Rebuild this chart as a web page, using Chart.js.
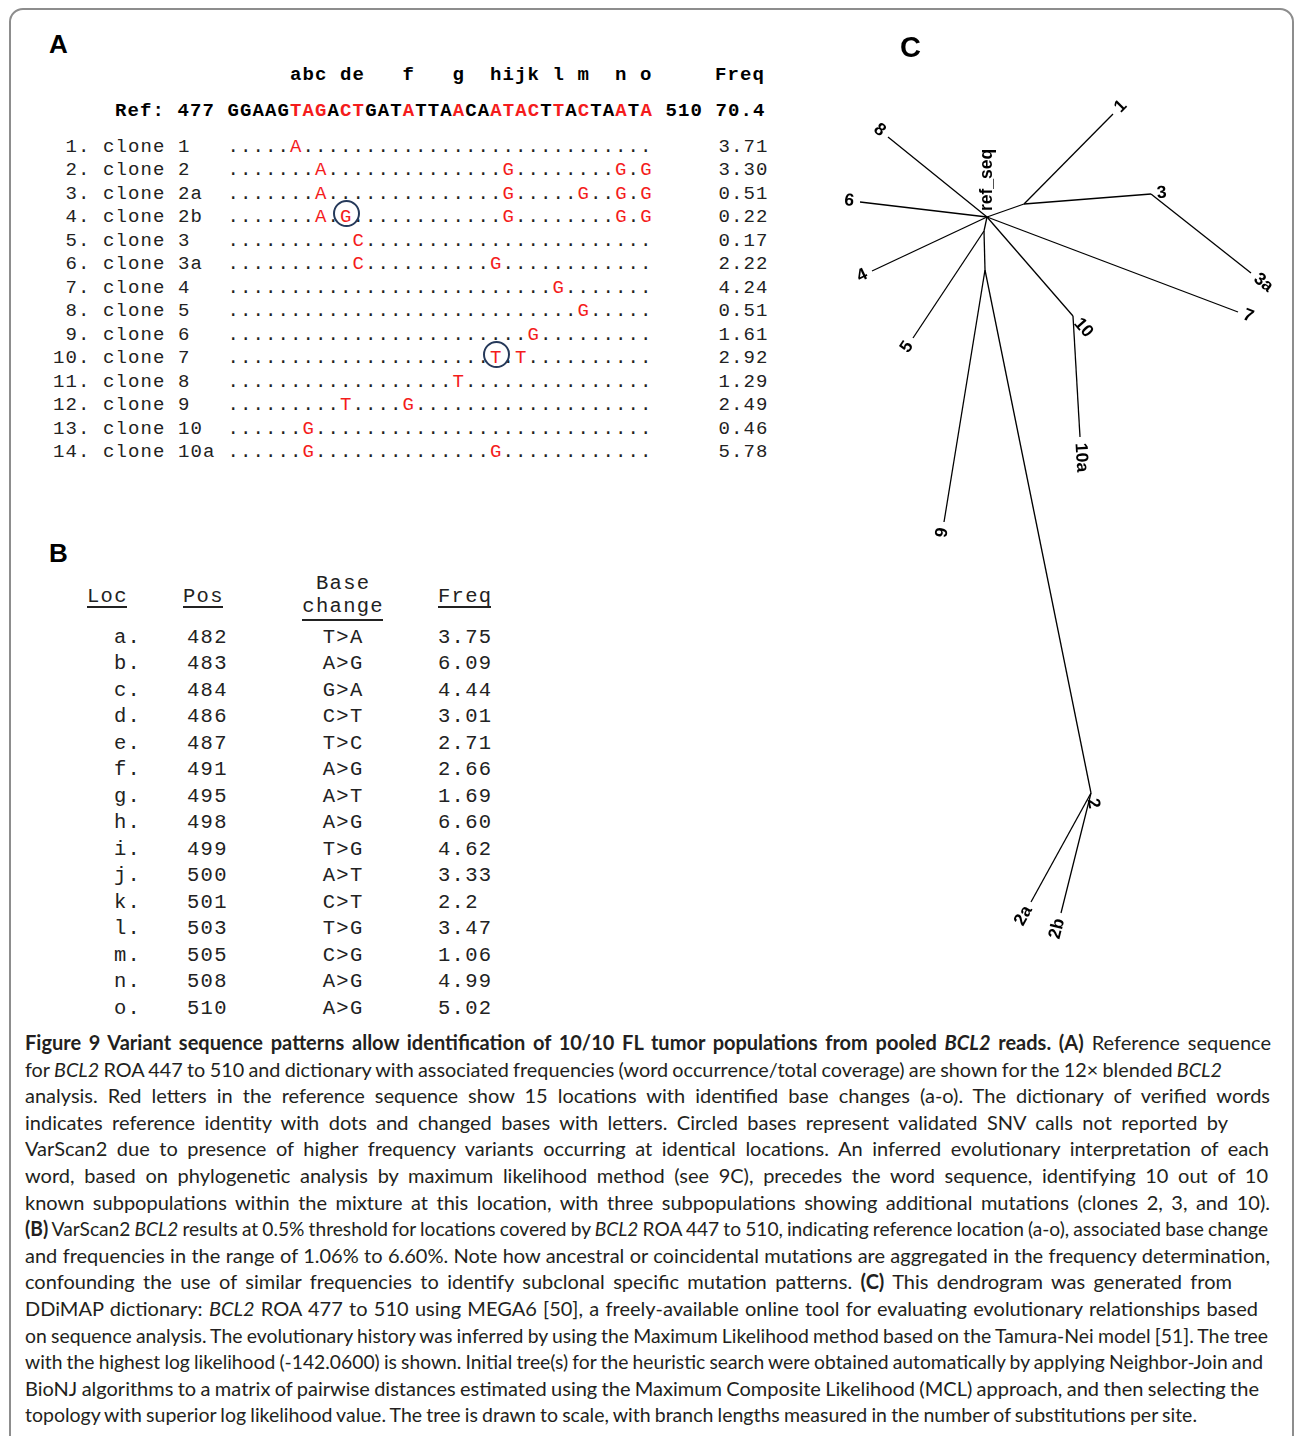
<!DOCTYPE html>
<html>
<head>
<meta charset="utf-8">
<title>Figure 9 – BCL2 variant sequence patterns</title>
<script src="https://cdn.jsdelivr.net/npm/chart.js@4.4.1/dist/chart.umd.min.js"></script>
<style>
  html, body { margin: 0; padding: 0; background: #fff; }
  body { width: 1295px; height: 1436px; position: relative; overflow: hidden; }
  .frame { position: absolute; left: 9px; top: 8px; width: 1285px; height: 1470px;
           border: 2px solid #8d8d8d; border-radius: 14px; box-sizing: border-box; }
  .t { position: absolute; white-space: pre; margin: 0; }
  .panelTag { font-family: "Liberation Sans", Arial, sans-serif; font-weight: bold; color: #000; font-size: 26px; }
  .panelTag.big { font-size: 29px; }
  .monoA { font-family: "Liberation Mono", "DejaVu Sans Mono", monospace; font-size: 19px; letter-spacing: 1.1px; color: #222; }
  .monoA.bold { font-weight: bold; color: #000; }
  .monoB { font-family: "Liberation Mono", "DejaVu Sans Mono", monospace; font-size: 20.5px; letter-spacing: 1.3px; color: #222; }
  .red { color: #f41c1c; }
  .ring { position: absolute; width: 23px; height: 23px; border: 2.6px solid #25395a; border-radius: 50%; }
  .rule { position: absolute; height: 1.6px; background: #222; }
  .cap { font-family: Lato, "Open Sans", sans-serif; font-size: 20px; color: #231f20; }
  #treeCanvas { position: absolute; left: 820px; top: 60px; }
</style>
</head>
<body>
<div class="frame"></div>
<canvas id="treeCanvas" width="470" height="900"></canvas>

<script>
// ---------- Panel A: reference sequence and clone dictionary ----------
const refStart = 477;
const refEnd = 510;
const refSeq = "GGAAGTAGACTGATATTAACAATACTTACTAATA";
const refFreq = "70.4";

const cloneNames = ["clone 1", "clone 2", "clone 2a", "clone 2b", "clone 3", "clone 3a", "clone 4",
                    "clone 5", "clone 6", "clone 7", "clone 8", "clone 9", "clone 10", "clone 10a"];
const cloneFreqs = ["3.71", "3.30", "0.51", "0.22", "0.17", "2.22", "4.24",
                    "0.51", "1.61", "2.92", "1.29", "2.49", "0.46", "5.78"];
// changed bases per clone, keyed by reference position
const cloneVariants = [
  { 482: "A" },
  { 484: "A", 499: "G", 508: "G", 510: "G" },
  { 484: "A", 499: "G", 505: "G", 508: "G", 510: "G" },
  { 484: "A", 486: "G", 499: "G", 508: "G", 510: "G" },
  { 487: "C" },
  { 487: "C", 498: "G" },
  { 503: "G" },
  { 505: "G" },
  { 501: "G" },
  { 498: "T", 500: "T" },
  { 495: "T" },
  { 486: "T", 491: "G" },
  { 483: "G" },
  { 483: "G", 498: "G" }
];
// validated SNV calls that VarScan2 did not report
const circledCalls = [
  { clone: "clone 2b", pos: 486 },
  { clone: "clone 7", pos: 498 }
];

// ---------- Panel B: VarScan2 calls ----------
const locLetters = ["a", "b", "c", "d", "e", "f", "g", "h", "i", "j", "k", "l", "m", "n", "o"];
const locPositions = [482, 483, 484, 486, 487, 491, 495, 498, 499, 500, 501, 503, 505, 508, 510];
const baseChanges = ["T>A", "A>G", "G>A", "C>T", "T>C", "A>G", "A>T", "A>G",
                     "T>G", "A>T", "C>T", "T>G", "C>G", "A>G", "A>G"];
const locFreqs = ["3.75", "6.09", "4.44", "3.01", "2.71", "2.66", "1.69", "6.60",
                  "4.62", "3.33", "2.2", "3.47", "1.06", "4.99", "5.02"];

// ---------- Panel C: maximum likelihood tree (unrooted layout, root = ref_seq) ----------
const treeNodes = [
  { id: "ref", x: 0,    y: 0,    parent: null,  label: "ref_seq" },
  { id: "j13", x: 37,   y: 13,   parent: "ref", label: null },
  { id: "1",   x: 126,  y: 103,  parent: "j13", label: "1" },
  { id: "3",   x: 164,  y: 23,   parent: "j13", label: "3" },
  { id: "3a",  x: 264,  y: -56,  parent: "3",   label: "3a" },
  { id: "8",   x: -99,  y: 80,   parent: "ref", label: "8" },
  { id: "6",   x: -127, y: 15,   parent: "ref", label: "6" },
  { id: "4",   x: -115, y: -54,  parent: "ref", label: "4" },
  { id: "j5",  x: -3,   y: -14,  parent: "ref", label: null },
  { id: "5",   x: -74,  y: -121, parent: "j5",  label: "5" },
  { id: "j9",  x: -2,   y: -53,  parent: "j5",  label: null },
  { id: "9",   x: -43,  y: -305, parent: "j9",  label: "9" },
  { id: "2",   x: 104,  y: -576, parent: "j9",  label: "2" },
  { id: "2a",  x: 44,   y: -685, parent: "2",   label: "2a" },
  { id: "2b",  x: 74,   y: -696, parent: "2",   label: "2b" },
  { id: "7",   x: 251,  y: -95,  parent: "ref", label: "7" },
  { id: "10",  x: 86,   y: -99,  parent: "ref", label: "10" },
  { id: "10a", x: 93,   y: -220, parent: "10",  label: "10a" }
];

// ---------- Caption ----------
const captionLines = [
  "<b>Figure 9 Variant sequence patterns allow identification of 10/10 FL tumor populations from pooled <i>BCL2</i> reads. (A)</b> Reference sequence",
  "for <i>BCL2</i> ROA 447 to 510 and dictionary with associated frequencies (word occurrence/total coverage) are shown for the 12× blended <i>BCL2</i>",
  "analysis. Red letters in the reference sequence show 15 locations with identified base changes (a-o). The dictionary of verified words",
  "indicates reference identity with dots and changed bases with letters. Circled bases represent validated SNV calls not reported by",
  "VarScan2 due to presence of higher frequency variants occurring at identical locations. An inferred evolutionary interpretation of each",
  "word, based on phylogenetic analysis by maximum likelihood method (see 9C), precedes the word sequence, identifying 10 out of 10",
  "known subpopulations within the mixture at this location, with three subpopulations showing additional mutations (clones 2, 3, and 10).",
  "<b>(B)</b> VarScan2 <i>BCL2</i> results at 0.5% threshold for locations covered by <i>BCL2</i> ROA 447 to 510, indicating reference location (a-o), associated base change",
  "and frequencies in the range of 1.06% to 6.60%. Note how ancestral or coincidental mutations are aggregated in the frequency determination,",
  "confounding the use of similar frequencies to identify subclonal specific mutation patterns. <b>(C)</b> This dendrogram was generated from",
  "DDiMAP dictionary: <i>BCL2</i> ROA 477 to 510 using MEGA6 [50], a freely-available online tool for evaluating evolutionary relationships based",
  "on sequence analysis. The evolutionary history was inferred by using the Maximum Likelihood method based on the Tamura-Nei model [51]. The tree",
  "with the highest log likelihood (-142.0600) is shown. Initial tree(s) for the heuristic search were obtained automatically by applying Neighbor-Join and",
  "BioNJ algorithms to a matrix of pairwise distances estimated using the Maximum Composite Likelihood (MCL) approach, and then selecting the",
  "topology with superior log likelihood value. The tree is drawn to scale, with branch lengths measured in the number of substitutions per site."
];
const captionRightEdges = [1271, 1222, 1270, 1228, 1269, 1268, 1270, 1268, 1270, 1232, 1258, 1268, 1263, 1259, 1197];

// ---------- layout helpers ----------
// Places a text element so that its alphabetic baseline sits at `base`.
function put(html, x, base, cls, align) {
  const d = document.createElement("div");
  d.className = "t " + cls;
  d.innerHTML = html;
  const mark = document.createElement("span");
  mark.style.cssText = "display:inline-block;width:0;height:0;vertical-align:baseline;letter-spacing:0";
  d.appendChild(mark);
  document.body.appendChild(d);
  d.style.left = x + "px";
  d.style.top = "0px";
  const off = mark.getBoundingClientRect().bottom - d.getBoundingClientRect().top;
  d.style.top = (base - off) + "px";
  if (align === "center") {
    const ls = parseFloat(getComputedStyle(d).letterSpacing) || 0;
    d.style.left = (x - (d.getBoundingClientRect().width - ls) / 2) + "px";
  }
  return d;
}
function rule(x, y, w) {
  const r = document.createElement("div");
  r.className = "rule";
  r.style.left = x + "px"; r.style.top = y + "px"; r.style.width = w + "px";
  document.body.appendChild(r);
}

// ---------- Panel A ----------
const pitchA = 12.5;        // monospace cell width
const seqLeft = 227.5;      // left edge of the first sequence cell
const nameLeft = 53;
const freqLeft = 718.5;
const rowBase0 = 151.7, rowStep = 23.5;

put("A", 49, 52.5, "panelTag", null);

// location letters above their reference positions
let hdr = "";
for (let p = refStart; p <= refEnd; p++) {
  const k = locPositions.indexOf(p);
  hdr += k >= 0 ? locLetters[k] : " ";
}
put(hdr + "     Freq", seqLeft, 80, "monoA bold", null);

// reference line: variable positions in red
let refHtml = "";
for (let p = refStart; p <= refEnd; p++) {
  const b = refSeq[p - refStart];
  refHtml += locPositions.includes(p) ? '<span class="red">' + b + "</span>" : b;
}
put("Ref: " + refStart + " " + refHtml + " " + refEnd + " " + refFreq, 115, 115.7, "monoA bold", null);

cloneNames.forEach((name, i) => {
  const base = rowBase0 + rowStep * i;
  const num = String(i + 1).padStart(2, " ") + ". ";
  put(num + name, nameLeft, base, "monoA", null);
  let s = "";
  for (let p = refStart; p <= refEnd; p++) {
    const v = cloneVariants[i][p];
    s += v ? '<span class="red">' + v + "</span>" : ".";
  }
  put(s, seqLeft, base, "monoA", null);
  put(cloneFreqs[i], freqLeft, base, "monoA", null);
});

circledCalls.forEach(c => {
  const i = cloneNames.indexOf(c.clone);
  const cx = seqLeft + (c.pos - refStart) * pitchA + 6.5;
  const cy = rowBase0 + rowStep * i - 8.5;
  const r = document.createElement("div");
  r.className = "ring";
  r.style.left = (cx - 14) + "px";
  r.style.top = (cy - 14) + "px";
  document.body.appendChild(r);
});

// ---------- Panel B ----------
put("B", 49, 561.5, "panelTag", null);
const colLoc = 87, colLocVal = 114, colPos = 183, colPosVal = 187, colChange = 342.5, colFreq = 438;
const bBase0 = 642.5, bStep = 26.5;

function headerWithRule(txt, x, base, ruleY, align) {
  const d = put(txt, x, base, "monoB", align);
  const ls = parseFloat(getComputedStyle(d).letterSpacing) || 0;
  const rc = d.getBoundingClientRect();
  rule(rc.left, ruleY, rc.width - ls);
}
headerWithRule("Loc", colLoc, 602, 606, null);
headerWithRule("Pos", colPos, 602, 606, null);
put("Base", colChange, 588.5, "monoB", "center");
headerWithRule("change", colChange, 611.5, 619, "center");
headerWithRule("Freq", colFreq, 602, 606, null);

locLetters.forEach((l, i) => {
  const base = bBase0 + bStep * i;
  put(l + ".", colLocVal, base, "monoB", null);
  put(String(locPositions[i]), colPosVal, base, "monoB", null);
  put(baseChanges[i], colChange, base, "monoB", "center");
  put(locFreqs[i], colFreq, base, "monoB", null);
});

// ---------- Panel C ----------
put("C", 900, 56.5, "panelTag big", null);

const nodeById = {};
treeNodes.forEach(n => { nodeById[n.id] = n; });

const branchSets = treeNodes.filter(n => n.parent).map(n => {
  const p = nodeById[n.parent];
  return {
    label: p.id + "-" + n.id,
    data: [{ x: p.x, y: p.y }, { x: n.x, y: n.y }],
    showLine: true,
    borderColor: "#000",
    borderWidth: 1.3,
    pointRadius: 0,
    fill: false,
    tension: 0
  };
});

// tip labels drawn radially, continuing the direction of each branch
const tipLabels = {
  id: "tipLabels",
  afterDatasetsDraw(chart) {
    const { ctx, scales: { x, y } } = chart;
    ctx.save();
    ctx.font = 'bold 17.5px "Liberation Sans", Arial, sans-serif';
    ctx.fillStyle = "#000";
    ctx.textBaseline = "middle";
    treeNodes.forEach(n => {
      if (!n.label) return;
      const px = x.getPixelForValue(n.x), py = y.getPixelForValue(n.y);
      let dx = 0, dy = -1;
      if (n.parent) {
        const p = nodeById[n.parent];
        dx = px - x.getPixelForValue(p.x);
        dy = py - y.getPixelForValue(p.y);
      }
      const len = Math.hypot(dx, dy);
      const ux = dx / len, uy = dy / len;
      const ang = Math.atan2(dy, dx);
      const flip = Math.abs(ang) > Math.PI / 2 + 1e-6;
      const gap = 6;
      ctx.save();
      ctx.translate(px + ux * gap, py + uy * gap);
      ctx.rotate(flip ? ang + Math.PI : ang);
      ctx.textAlign = flip ? "right" : "left";
      ctx.fillText(n.label, 0, 0);
      ctx.restore();
    });
    ctx.restore();
  }
};

new Chart(document.getElementById("treeCanvas"), {
  type: "scatter",
  data: { datasets: branchSets },
  options: {
    responsive: false,
    maintainAspectRatio: false,
    animation: false,
    devicePixelRatio: 1,
    events: [],
    layout: { padding: 0 },
    plugins: { legend: { display: false }, tooltip: { enabled: false }, title: { display: false } },
    scales: {
      x: { type: "linear", display: false, min: -167, max: 303 },
      y: { type: "linear", display: false, min: -743, max: 157 }
    }
  },
  plugins: [tipLabels]
});

// ---------- Caption, justified line by line ----------
const capLeft = 25, capBase0 = 1050, capStep = 26.6;
captionLines.forEach((html, i) => {
  const d = put(html, capLeft, capBase0 + capStep * i, "cap", null);
  const target = captionRightEdges[i] - capLeft;
  const w = d.getBoundingClientRect().width;
  const spaces = (d.textContent.match(/ /g) || []).length;
  let ws = spaces ? (target - w) / spaces : 0;
  let scale = 1;
  if (ws < -0.8) {
    ws = -0.8;
    scale = target / (w + ws * spaces);
  }
  d.style.wordSpacing = ws + "px";
  if (scale !== 1) {
    d.style.transformOrigin = "0 0";
    d.style.transform = "scaleX(" + scale + ")";
  }
});
</script>
</body>
</html>
